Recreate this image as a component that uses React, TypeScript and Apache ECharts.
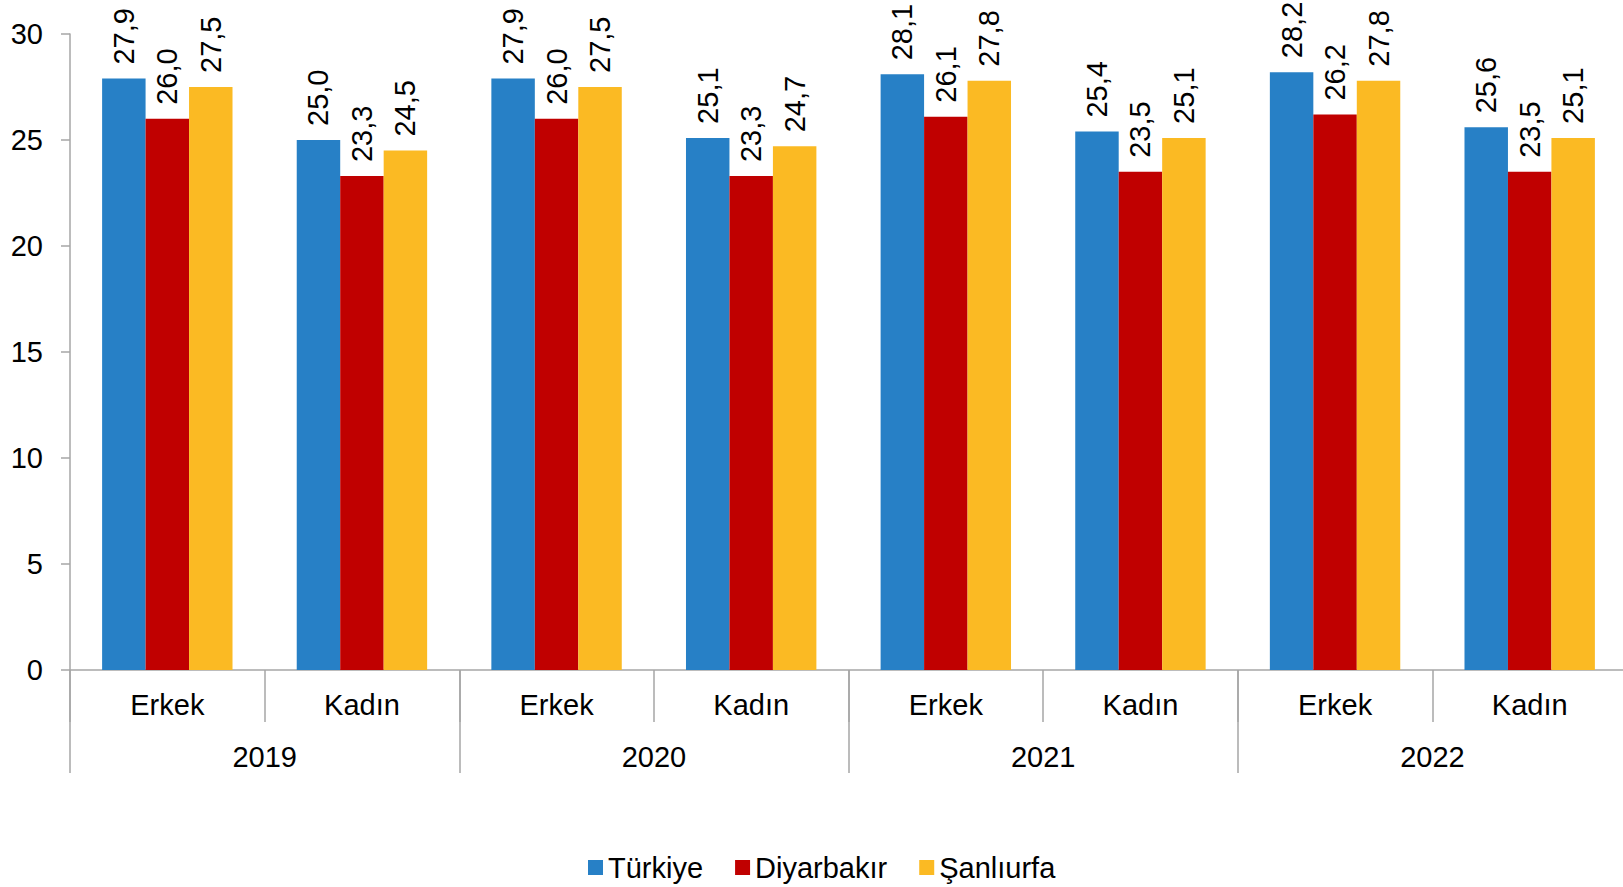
import React, { useEffect, useRef } from "react";
import * as echarts from "echarts";

const categories = ["Erkek", "Kadın", "Erkek", "Kadın", "Erkek", "Kadın", "Erkek", "Kadın"];
const years = ["2019", "2020", "2021", "2022"];
const turkiye = [27.9, 25.0, 27.9, 25.1, 28.1, 25.4, 28.2, 25.6];
const diyarbakir = [26.0, 23.3, 26.0, 23.3, 26.1, 23.5, 26.2, 23.5];
const sanliurfa = [27.5, 24.5, 27.5, 24.7, 27.8, 25.1, 27.8, 25.1];
const yTicks = [0, 5, 10, 15, 20, 25, 30];

const FONT = "'Liberation Sans', Arial, sans-serif";
const AXIS_COLOR = "#a6a6a6";
const FS = 29;

export default function App() {
  const ref = useRef<HTMLDivElement>(null);
  useEffect(() => {
    if (!ref.current) return;
    const chart = echarts.init(ref.current, undefined, { renderer: "svg" });
    const label = {
      show: true,
      position: "top",
      rotate: 90,
      align: "left",
      verticalAlign: "middle",
      distance: 14,
      fontSize: FS,
      fontFamily: FONT,
      color: "#000",
      formatter: (p: any) => Number(p.value).toFixed(1).replace(".", ","),
    };
    const mk = (name: string, data: number[], color: string) => ({
      name,
      type: "bar",
      data,
      xAxisIndex: 0,
      yAxisIndex: 0,
      barGap: "0%",
      barCategoryGap: "33%",
      itemStyle: { color },
      label,
    });
    chart.setOption({
      animation: false,
      textStyle: { fontFamily: FONT },
      grid: { left: 70, right: 0, top: 34, bottom: 217, containLabel: false },
      legend: {
        top: 848,
        left: 583,
        icon: "rect",
        itemWidth: 15,
        itemHeight: 15,
        itemGap: 32,
        textStyle: { fontSize: FS, fontFamily: FONT, color: "#000" },
        data: ["Türkiye", "Diyarbakır", "Şanlıurfa"],
      },
      xAxis: [
        {
          type: "category",
          data: categories,
          position: "bottom",
          axisLine: { show: true, lineStyle: { color: AXIS_COLOR, width: 1.5 } },
          axisTick: { show: true, interval: 0, length: 52, lineStyle: { color: AXIS_COLOR, width: 1.5 } },
          axisLabel: { interval: 0, margin: 20, fontSize: FS, fontFamily: FONT, color: "#000" },
        },
        {
          type: "category",
          data: years,
          position: "bottom",
          axisLine: { show: false },
          axisTick: { show: true, interval: 0, length: 103, lineStyle: { color: AXIS_COLOR, width: 1.5 } },
          axisLabel: { interval: 0, margin: 72, fontSize: FS, fontFamily: FONT, color: "#000" },
          splitLine: { show: false },
        },
      ],
      yAxis: {
        type: "value",
        min: yTicks[0],
        max: yTicks[yTicks.length - 1],
        interval: 5,
        axisLine: { show: true, lineStyle: { color: AXIS_COLOR, width: 1.5 } },
        axisTick: { show: true, length: 9, lineStyle: { color: AXIS_COLOR, width: 1.5 } },
        axisLabel: { margin: 27, fontSize: FS, fontFamily: FONT, color: "#000" },
        splitLine: { show: false },
      },
      series: [
        mk("Türkiye", turkiye, "#2780c6"),
        mk("Diyarbakır", diyarbakir, "#c00000"),
        mk("Şanlıurfa", sanliurfa, "#fbba23"),
      ],
    });
    return () => chart.dispose();
  }, []);
  return (
    <div
      ref={ref}
      style={{ position: "fixed", left: 0, top: 0, width: 1627, height: 887, background: "#fff" }}
    />
  );
}
